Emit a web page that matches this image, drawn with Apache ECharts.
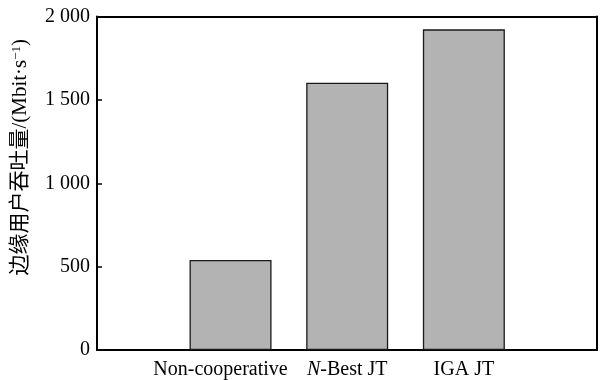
<!DOCTYPE html>
<html>
<head>
<meta charset="utf-8">
<script src="https://cdn.jsdelivr.net/npm/echarts@6/dist/echarts.min.js"></script>
<style>
  html, body { margin: 0; padding: 0; background: #fff; }
  #chart { width: 601px; height: 380px; }
</style>
</head>
<body>
<div id="chart"></div>
<script>
// Edge-user throughput for each transmission scheme
const categories = ['Non-cooperative', 'N-Best JT', 'IGA JT'];
const throughput = [540, 1603, 1923];
const yTicks = [0, 500, 1000, 1500, 2000];

const serif = "'Liberation Serif', 'Times New Roman', 'Noto Sans CJK SC', serif";
const chart = echarts.init(document.getElementById('chart'), null, { renderer: 'canvas' });

function fmtTick(v) {
  // thousands separated by a space
  return v >= 1000 ? Math.floor(v / 1000) + ' ' + String(v % 1000).padStart(3, '0') : String(v);
}

function fmtCategory(v, idx) {
  if (v.startsWith('N-')) return '{i|N}{r|' + v.slice(1) + '}';
  // the long first label sits slightly left of its bar
  if (idx === 0) return '{w|' + v + '}';
  return '{r|' + v + '}';
}

const frameLine = { show: true, onZero: false, lineStyle: { color: '#000', width: 2 } };
const labelText = { fontFamily: serif, fontSize: 20, color: '#000' };

chart.setOption({
  animation: false,
  backgroundColor: '#fff',
  grid: [
    // outer frame with the value axis
    { left: 97, right: 4, top: 16.5, bottom: 30, show: false },
    // inner band holding the bars
    { left: 172.2, right: 78.8, top: 16.5, bottom: 30, show: false }
  ],
  xAxis: [
    {
      gridIndex: 0, type: 'category', data: [''], position: 'bottom',
      axisLine: frameLine, axisTick: { show: false }, axisLabel: { show: false }
    },
    {
      gridIndex: 0, type: 'category', data: [''], position: 'top',
      axisLine: frameLine, axisTick: { show: false }, axisLabel: { show: false }
    },
    {
      gridIndex: 1, type: 'category', data: categories,
      axisLine: { show: false }, axisTick: { show: false },
      axisLabel: {
        interval: 0, margin: 10, hideOverlap: false,
        color: '#000', fontFamily: serif, fontSize: 20,
        formatter: fmtCategory,
        rich: {
          i: Object.assign({ fontStyle: 'italic' }, labelText),
          r: Object.assign({}, labelText),
          w: Object.assign({ padding: [0, 20, 0, 0] }, labelText)
        }
      }
    }
  ],
  yAxis: [
    {
      gridIndex: 0, type: 'value', min: yTicks[0], max: yTicks[yTicks.length - 1], interval: 500,
      axisLine: frameLine,
      axisTick: { show: true, inside: true, length: 5, lineStyle: { color: '#000', width: 1.5 } },
      splitLine: { show: false },
      axisLabel: { color: '#000', fontFamily: serif, fontSize: 20, margin: 7, formatter: fmtTick },
      name: '{t|边缘用户吞吐量/(Mbit·s}{s|−1}{t|)}',
      nameLocation: 'middle', nameRotate: 90, nameGap: 66,
      nameTextStyle: {
        padding: [0, 0, 0, 52],
        rich: {
          t: { fontFamily: serif, fontSize: 21, color: '#000' },
          s: { fontFamily: serif, fontSize: 13, color: '#000', verticalAlign: 'top', padding: [0, 0, 8, 0] }
        }
      }
    },
    {
      gridIndex: 0, type: 'value', position: 'right', min: 0, max: 2000,
      axisLine: frameLine, axisTick: { show: false }, axisLabel: { show: false }, splitLine: { show: false }
    },
    {
      gridIndex: 1, type: 'value', min: 0, max: 2000, show: false
    }
  ],
  series: [{
    type: 'bar',
    xAxisIndex: 2, yAxisIndex: 2,
    data: throughput,
    barWidth: 82,
    itemStyle: { color: '#b3b3b3', borderColor: '#1a1a1a', borderWidth: 1.3 }
  }]
});
</script>
</body>
</html>
